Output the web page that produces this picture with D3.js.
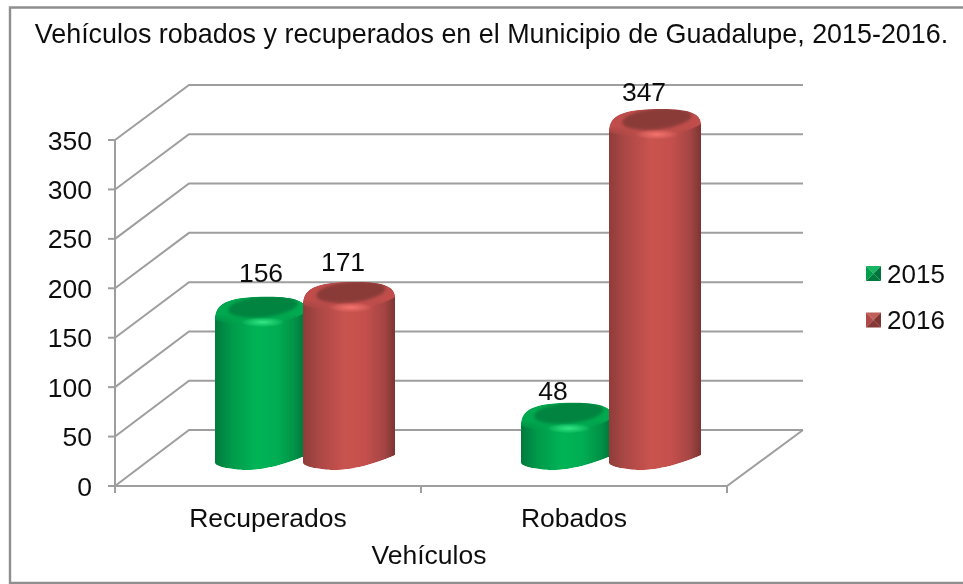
<!DOCTYPE html>
<html><head><meta charset="utf-8">
<script src="https://cdn.jsdelivr.net/npm/d3@7"></script>
<style>html,body{margin:0;padding:0;background:#fff}svg{display:block}text{font-family:"Liberation Sans",Arial,sans-serif;fill:#111}</style>
</head><body><svg id="c" width="963" height="584"></svg>
<script>
const titleText = "Vehículos robados y recuperados en el Municipio de Guadalupe, 2015-2016.";
const xAxisTitle = "Vehículos";
const categories = ["Recuperados", "Robados"];
const seriesNames = ["2015", "2016"];
const values2015 = [156, 48];
const values2016 = [171, 347];
const yTicks = [0, 50, 100, 150, 200, 250, 300, 350];
const seriesValues = [values2015, values2016];

const bodyStops = [
  ["#007a3d", "#8f3d3a"], ["#009a4b", "#ab4845"], ["#00b455", "#c9534f"],
  ["#00ad52", "#c4504d"], ["#008f46", "#a54543"], ["#006e37", "#7c3533"]];
const bodyOffsets = [0, .18, .45, .68, .88, 1];
const topDark = ["#008440", "#8a3a37"];
const topLight = ["#35e685", "#f5736e"];
const topMid = ["#00a94f", "#c04e4b"];
const legendShades = [["#14b563", "#00a04c", "#00743a", "#007a3c"], ["#c05e5b", "#b04a47", "#7f3533", "#853735"]];

const svg = d3.select("#c");
const x = d3.scaleBand().domain(categories).range([115, 727]);
const sub = d3.scaleBand().domain(seriesNames).range([-90, 90]);
const yFront = d3.scaleLinear().domain([0, 350]).range([486, 140]);
const yBack = d3.scaleLinear().domain([0, 350]).range([430, 85]);
const yBar = d3.scaleLinear().domain([0, 350]).range([466, 122]);
const depthLeft = 74, depthRight = 76, depthBar = 37;
const barBottom = 459, gray = "#9e9e9e";

const defs = svg.append("defs");
defs.append("filter").attr("id", "soft").append("feGaussianBlur").attr("stdDeviation", 0.4);
defs.append("filter").attr("id", "textSoft").append("feGaussianBlur").attr("stdDeviation", 0.3);
const bl = defs.append("filter").attr("id", "blur").attr("x", "-30%").attr("y", "-50%").attr("width", "160%").attr("height", "200%");
bl.append("feGaussianBlur").attr("stdDeviation", 1.8);
seriesNames.forEach((s, i) => {
  const g = defs.append("linearGradient").attr("id", "body" + i);
  bodyOffsets.forEach((o, k) => g.append("stop").attr("offset", o).attr("stop-color", bodyStops[k][i]));
  const t = defs.append("linearGradient").attr("id", "bevel" + i).attr("x1", 0).attr("x2", 0).attr("y1", 0).attr("y2", 1);
  t.append("stop").attr("offset", 0).attr("stop-color", topMid[i]);
  t.append("stop").attr("offset", .6).attr("stop-color", topMid[i]);
  t.append("stop").attr("offset", 1).attr("stop-color", topMid[i]).attr("stop-opacity", 0);
  const r = defs.append("radialGradient").attr("id", "glow" + i);
  r.append("stop").attr("offset", 0).attr("stop-color", topLight[i]).attr("stop-opacity", 1);
  r.append("stop").attr("offset", 1).attr("stop-color", topLight[i]).attr("stop-opacity", 0);
});

// Frame (open on the right, where the picture is cropped)
svg.append("path").attr("d", d3.line()([[963, 7.5], [10, 7.5], [10, 583], [963, 583]]))
  .attr("fill", "none").attr("stroke", "#8f8f8f").attr("stroke-width", 2.4);

// Walls
const L = x.range()[0], R = x.range()[1];
const gridG = svg.append("g").attr("fill", "none").attr("stroke", gray).attr("stroke-width", 2).attr("filter", "url(#soft)");
const seg = pts => gridG.append("path").attr("d", d3.line()(pts));
yTicks.forEach(t => seg([[L, yFront(t)], [L + depthLeft, yBack(t)], [R + depthRight, yBack(t)]]));
seg([[L, yFront(0)], [R, yFront(0)], [R + depthRight, yBack(0)]]);
seg([[L, yFront(350)], [L, yFront(0)]]);
yTicks.forEach(t => seg([[L - 7, yFront(t)], [L, yFront(t)]]));
[x(categories[0]), x(categories[1]), R].forEach(p => seg([[p, yFront(0)], [p, yFront(0) + 7]]));

// Bars
const barsG = svg.append("g").attr("filter", "url(#soft)");
let clipId = 0;
function drawBar(g, cat, si, v) {
  const name = seriesNames[si];
  const cx = x(cat) + x.bandwidth() / 2 + depthBar;
  const x0 = cx + sub(name) - (si === 1 ? 2 : 0);
  const x1 = cx + sub(name) + sub.bandwidth() + (si === 0 ? 2 : 0);
  const w = x1 - x0, ym = yBar(v), tilt = 4;
  const f = (u, dy) => [x0 + u * w, dy];
  const shoulder = "M" + f(0, ym + tilt + 3) +
    "C" + f(0, ym - 9) + " " + f(.12, ym - 16) + " " + f(.58, ym - 16) +
    "C" + f(.88, ym - 16) + " " + f(1, ym - 11) + " " + f(1, ym - tilt + 3);
  const outline = shoulder +
    "L" + f(1, barBottom - tilt) +
    "C" + f(.85, barBottom + 3) + " " + f(.45, barBottom + 15) + " " + f(.2, barBottom + 10) +
    "C" + f(.08, barBottom + 9) + " " + f(0, barBottom + 6) + " " + f(0, barBottom + tilt) + "Z";
  const id = "clip" + (clipId++);
  defs.append("clipPath").attr("id", id).append("path").attr("d", outline);
  const b = g.append("g").attr("clip-path", `url(#${id})`);
  b.append("path").attr("d", outline).attr("fill", `url(#body${si})`);
  const bevel = shoulder +
    "C" + f(.85, ym + 8) + " " + f(.4, ym + 20) + " " + f(0, ym + tilt + 3) + "Z";
  b.append("path").attr("d", bevel).attr("fill", `url(#bevel${si})`);
  b.append("ellipse").attr("cx", x0 + .52 * w).attr("cy", ym - 6).attr("rx", .38 * w).attr("ry", 10.5)
    .attr("transform", `rotate(-6 ${x0 + .52 * w} ${ym - 6})`).attr("fill", topDark[si]).attr("filter", "url(#blur)");
  b.append("ellipse").attr("cx", x0 + .52 * w).attr("cy", ym + 9.5).attr("rx", .24 * w).attr("ry", 5)
    .attr("fill", `url(#glow${si})`);
}
categories.forEach((cat, c) => seriesNames.forEach((s, si) => drawBar(barsG, cat, si, seriesValues[si][c])));

const textG = svg.append("g").attr("filter", "url(#textSoft)");

// Value-axis labels
textG.append("g").selectAll("text").data(yTicks).join("text")
  .attr("x", 92).attr("y", d => yFront(d) + 9.5).attr("text-anchor", "end")
  .attr("font-size", 26.5).text(d => d);

// Value labels: nudged individually, as they sit in the reference
const nudge = { "2015|Recuperados": [1, -31], "2016|Recuperados": [-7, -27], "2015|Robados": [-13, -19], "2016|Robados": [-12, -24] };
categories.forEach((cat, c) => seriesNames.forEach((s, si) => {
  const v = seriesValues[si][c];
  const cx = x(cat) + x.bandwidth() / 2 + depthBar + sub(s) + sub.bandwidth() / 2;
  const n = nudge[s + "|" + cat];
  textG.append("text").attr("x", cx + n[0]).attr("y", yBar(v) + n[1])
    .attr("text-anchor", "middle").attr("font-size", 26.5).text(v);
}));

// Category labels and titles
textG.append("g").selectAll("text").data(categories).join("text")
  .attr("x", d => x(d) + x.bandwidth() / 2).attr("y", 527).attr("text-anchor", "middle")
  .attr("font-size", 26.5).text(d => d);
textG.append("text").attr("x", 429).attr("y", 564).attr("text-anchor", "middle").attr("font-size", 26.5).text(xAxisTitle);
textG.append("text").attr("x", 491.5).attr("y", 43).attr("text-anchor", "middle").attr("font-size", 26.9).text(titleText);

// Legend
const legY = d3.scalePoint().domain(seriesNames).range([273.5, 320]);
const legS = 15;
seriesNames.forEach((s, i) => {
  const lx = 866, ly = legY(s) - legS / 2, m = [lx + legS / 2, legY(s)];
  const c = [[lx, ly], [lx + legS, ly], [lx + legS, ly + legS], [lx, ly + legS]];
  const lg = svg.append("g").attr("filter", "url(#soft)");
  // top, left, right, bottom facets of the bevelled key
  [[c[0], c[1]], [c[0], c[3]], [c[1], c[2]], [c[3], c[2]]].forEach((e, k) =>
    lg.append("path").attr("d", d3.line()([e[0], e[1], m]) + "Z").attr("fill", legendShades[i][k]));
  textG.append("text").attr("x", 887).attr("y", legY(s) + 9).attr("font-size", 26).text(s);
});
</script></body></html>
